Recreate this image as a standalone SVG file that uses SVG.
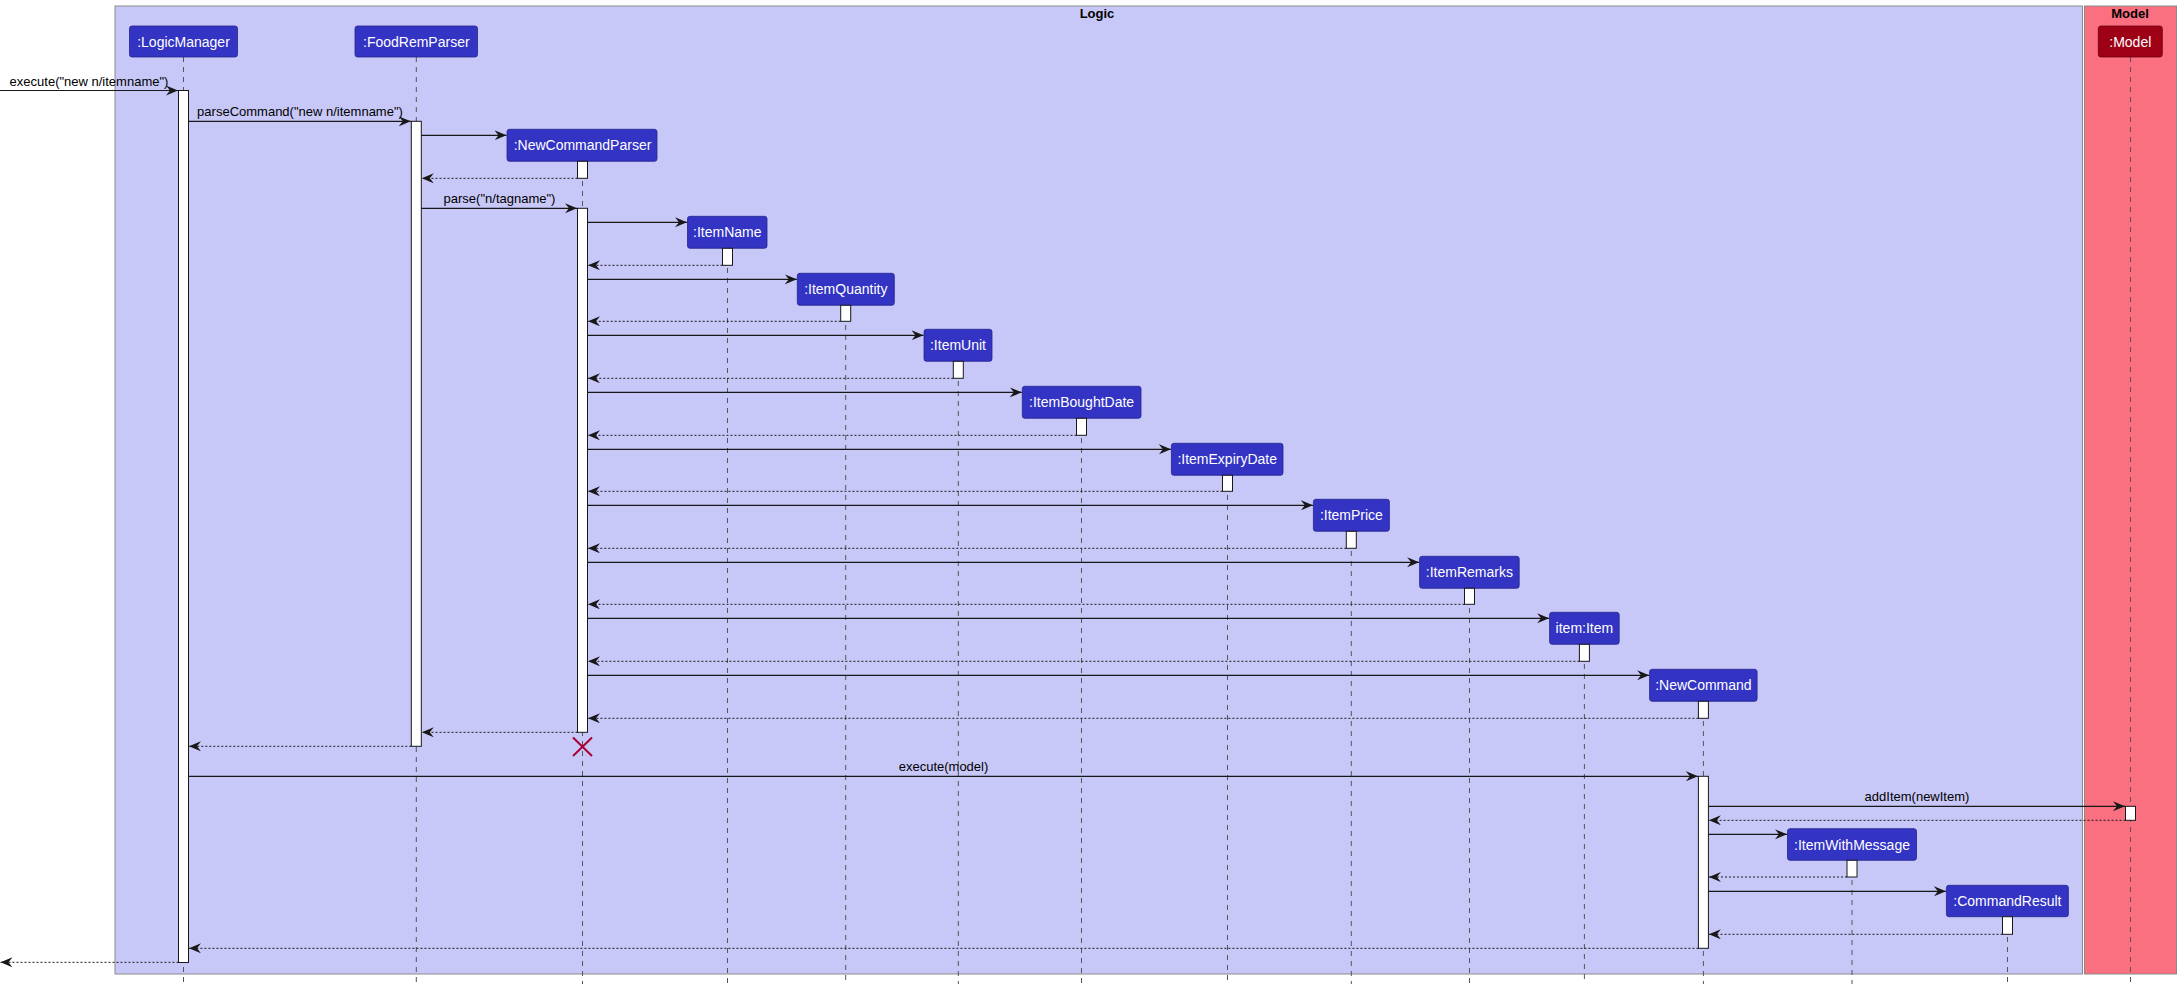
<svg xmlns="http://www.w3.org/2000/svg" width="2181" height="986" viewBox="0 0 2181 986">
<defs>
<marker id="ah" markerUnits="userSpaceOnUse" markerWidth="14" markerHeight="12" refX="12" refY="5" orient="auto">
<path d="M0,0 L12,5 L0,10 L4,5 Z" fill="#181818"/>
</marker>
<style>
.frame{stroke:#8a8a8a;stroke-width:1}
.logic{fill:#C8C8F8}
.model{fill:#FA7081}
.title{font-family:"Liberation Sans",Arial,sans-serif;font-size:13px;font-weight:bold;fill:#000;text-anchor:middle}
.p{fill:#3333C4;stroke:#23238a;stroke-width:0.8}
.pm{fill:#9E0016;stroke:#6a0010;stroke-width:0.8}
.pt{font-family:"Liberation Sans",Arial,sans-serif;font-size:14px;fill:#fff;text-anchor:middle}
.life{stroke:#555;stroke-width:1;stroke-dasharray:5,5;fill:none}
.act{fill:#fff;stroke:#181818;stroke-width:1}
.msg{stroke:#181818;stroke-width:1.2;fill:none;marker-end:url(#ah)}
.ret{stroke:#181818;stroke-width:1;stroke-dasharray:2,2;fill:none;marker-end:url(#ah)}
.ml{font-family:"Liberation Sans",Arial,sans-serif;font-size:13px;fill:#000;text-anchor:middle}
</style>
</defs>
<rect width="2181" height="986" fill="#fff"/>
<g id="frames">
<rect class="frame logic" x="115" y="6" width="1967.5" height="968"/>
<text class="title" x="1097" y="18">Logic</text>
<rect class="frame model" x="2084.5" y="6" width="92" height="968"/>
<text class="title" x="2130" y="18">Model</text>
</g>
<g id="lifelines">
<line class="life" x1="183.5" y1="57" x2="183.5" y2="984"/>
<line class="life" x1="416.3" y1="57" x2="416.3" y2="984"/>
<line class="life" x1="582.5" y1="161" x2="582.5" y2="984"/>
<line class="life" x1="727.5" y1="248" x2="727.5" y2="984"/>
<line class="life" x1="845.7" y1="305" x2="845.7" y2="984"/>
<line class="life" x1="958.3" y1="361" x2="958.3" y2="984"/>
<line class="life" x1="1081.5" y1="418" x2="1081.5" y2="984"/>
<line class="life" x1="1227.5" y1="475" x2="1227.5" y2="984"/>
<line class="life" x1="1351.3" y1="531" x2="1351.3" y2="984"/>
<line class="life" x1="1469.5" y1="588" x2="1469.5" y2="984"/>
<line class="life" x1="1584.4" y1="644" x2="1584.4" y2="984"/>
<line class="life" x1="1703.4" y1="701" x2="1703.4" y2="984"/>
<line class="life" x1="1852" y1="860" x2="1852" y2="984"/>
<line class="life" x1="2007.5" y1="917" x2="2007.5" y2="984"/>
<line class="life" x1="2130.5" y1="57" x2="2130.5" y2="984"/>
</g>
<g id="LogicManager">
<rect class="p" x="129.5" y="26" width="108" height="31" rx="2.5"/>
<text class="pt" x="183.5" y="46.5">:LogicManager</text>
<rect class="act" x="178.5" y="90.5" width="10" height="872"/>
</g>
<g id="FoodRemParser">
<rect class="p" x="355" y="26" width="122.5" height="31" rx="2.5"/>
<text class="pt" x="416.3" y="46.5">:FoodRemParser</text>
<rect class="act" x="411.3" y="121.3" width="10" height="625"/>
</g>
<g id="NewCommandParser">
<rect class="p" x="507" y="129.3" width="150" height="32" rx="2.5"/>
<text class="pt" x="582.5" y="150.3">:NewCommandParser</text>
<rect class="act" x="577.5" y="161.3" width="10" height="17"/>
<rect class="act" x="577.5" y="208.3" width="10" height="524"/>
<g stroke="#A80036" stroke-width="2">
<line x1="573" y1="737.5" x2="592" y2="756"/>
<line x1="592" y1="737.5" x2="573" y2="756"/>
</g>
</g>
<g id="ItemName">
<rect class="p" x="687.5" y="216.3" width="79.5" height="32" rx="2.5"/>
<text class="pt" x="727.3" y="237.3">:ItemName</text>
<rect class="act" x="722.5" y="248.3" width="10" height="17"/>
</g>
<g id="ItemQuantity">
<rect class="p" x="797.3" y="273.3" width="97" height="32" rx="2.5"/>
<text class="pt" x="845.8" y="294.3">:ItemQuantity</text>
<rect class="act" x="840.7" y="305.3" width="10" height="16"/>
</g>
<g id="ItemUnit">
<rect class="p" x="924" y="329.3" width="68" height="32" rx="2.5"/>
<text class="pt" x="958" y="350.3">:ItemUnit</text>
<rect class="act" x="953.3" y="361.3" width="10" height="17"/>
</g>
<g id="ItemBoughtDate">
<rect class="p" x="1022.3" y="386.3" width="118.7" height="32" rx="2.5"/>
<text class="pt" x="1081.6" y="407.3">:ItemBoughtDate</text>
<rect class="act" x="1076.5" y="418.3" width="10" height="17"/>
</g>
<g id="ItemExpiryDate">
<rect class="p" x="1171.4" y="443.3" width="111.6" height="32" rx="2.5"/>
<text class="pt" x="1227.2" y="464.3">:ItemExpiryDate</text>
<rect class="act" x="1222.5" y="475.3" width="10" height="16"/>
</g>
<g id="ItemPrice">
<rect class="p" x="1313.4" y="499.3" width="76" height="32" rx="2.5"/>
<text class="pt" x="1351.4" y="520.3">:ItemPrice</text>
<rect class="act" x="1346.3" y="531.3" width="10" height="17"/>
</g>
<g id="ItemRemarks">
<rect class="p" x="1419.6" y="556.3" width="99.6" height="32" rx="2.5"/>
<text class="pt" x="1469.4" y="577.3">:ItemRemarks</text>
<rect class="act" x="1464.5" y="588.3" width="10" height="16"/>
</g>
<g id="item_Item">
<rect class="p" x="1549.6" y="612.3" width="69.6" height="32" rx="2.5"/>
<text class="pt" x="1584.4" y="633.3">item:Item</text>
<rect class="act" x="1579.4" y="644.3" width="10" height="17"/>
</g>
<g id="NewCommand">
<rect class="p" x="1649.6" y="669.3" width="107.5" height="32" rx="2.5"/>
<text class="pt" x="1703.4" y="690.3">:NewCommand</text>
<rect class="act" x="1698.4" y="701.3" width="10" height="17"/>
<rect class="act" x="1698.4" y="776.3" width="10" height="172"/>
</g>
<g id="ItemWithMessage">
<rect class="p" x="1787.5" y="828.7" width="129" height="31.6" rx="2.5"/>
<text class="pt" x="1852" y="849.5">:ItemWithMessage</text>
<rect class="act" x="1847" y="860.3" width="10" height="16.7"/>
</g>
<g id="CommandResult">
<rect class="p" x="1946.4" y="885.3" width="122" height="31.4" rx="2.5"/>
<text class="pt" x="2007.4" y="906">:CommandResult</text>
<rect class="act" x="2002.5" y="916.7" width="10" height="17.6"/>
</g>
<g id="Model">
<rect class="pm" x="2098.3" y="26" width="64" height="31" rx="2.5"/>
<text class="pt" x="2130.3" y="46.5">:Model</text>
<rect class="act" x="2125.5" y="806.3" width="10" height="14"/>
</g>
<g id="connectors">
<line class="msg" x1="0" y1="90.5" x2="178" y2="90.5"/>
<text class="ml" x="89" y="85.5">execute("new n/itemname")</text>
<line class="msg" x1="188.5" y1="121.3" x2="410.8" y2="121.3"/>
<text class="ml" x="300" y="116.3">parseCommand("new n/itemname")</text>
<line class="msg" x1="421.3" y1="135.3" x2="506.5" y2="135.3"/>
<line class="ret" x1="577.5" y1="178.3" x2="421.8" y2="178.3"/>
<line class="msg" x1="421.3" y1="208.3" x2="577" y2="208.3"/>
<text class="ml" x="499.5" y="203.3">parse("n/tagname")</text>
<line class="msg" x1="587.5" y1="222.3" x2="687" y2="222.3"/>
<line class="ret" x1="722.5" y1="265.3" x2="588" y2="265.3"/>
<line class="msg" x1="587.5" y1="279.3" x2="796.8" y2="279.3"/>
<line class="ret" x1="840.7" y1="321.3" x2="588" y2="321.3"/>
<line class="msg" x1="587.5" y1="335.3" x2="923.5" y2="335.3"/>
<line class="ret" x1="953.3" y1="378.3" x2="588" y2="378.3"/>
<line class="msg" x1="587.5" y1="392.3" x2="1021.8" y2="392.3"/>
<line class="ret" x1="1076.5" y1="435.3" x2="588" y2="435.3"/>
<line class="msg" x1="587.5" y1="449.3" x2="1170.9" y2="449.3"/>
<line class="ret" x1="1222.5" y1="491.3" x2="588" y2="491.3"/>
<line class="msg" x1="587.5" y1="505.3" x2="1312.9" y2="505.3"/>
<line class="ret" x1="1346.3" y1="548.3" x2="588" y2="548.3"/>
<line class="msg" x1="587.5" y1="562.3" x2="1419.1" y2="562.3"/>
<line class="ret" x1="1464.5" y1="604.3" x2="588" y2="604.3"/>
<line class="msg" x1="587.5" y1="618.3" x2="1549.1" y2="618.3"/>
<line class="ret" x1="1579.4" y1="661.3" x2="588" y2="661.3"/>
<line class="msg" x1="587.5" y1="675.3" x2="1649.1" y2="675.3"/>
<line class="ret" x1="1698.4" y1="718.3" x2="588" y2="718.3"/>
<line class="ret" x1="577.5" y1="732.3" x2="421.8" y2="732.3"/>
<line class="ret" x1="411.3" y1="746.3" x2="189" y2="746.3"/>
<line class="msg" x1="188.5" y1="776.3" x2="1697.9" y2="776.3"/>
<text class="ml" x="943.5" y="771">execute(model)</text>
<line class="msg" x1="1708.4" y1="806.3" x2="2125" y2="806.3"/>
<text class="ml" x="1917" y="801.3">addItem(newItem)</text>
<line class="ret" x1="2125.5" y1="820.3" x2="1708.9" y2="820.3"/>
<line class="msg" x1="1708.4" y1="834.3" x2="1787" y2="834.3"/>
<line class="ret" x1="1847" y1="877" x2="1708.9" y2="877"/>
<line class="msg" x1="1708.4" y1="891.3" x2="1945.9" y2="891.3"/>
<line class="ret" x1="2002.5" y1="934.3" x2="1708.9" y2="934.3"/>
<line class="ret" x1="1698.4" y1="948.3" x2="189" y2="948.3"/>
<line class="ret" x1="178.5" y1="962.3" x2="0.5" y2="962.3"/>
</g>
</svg>
